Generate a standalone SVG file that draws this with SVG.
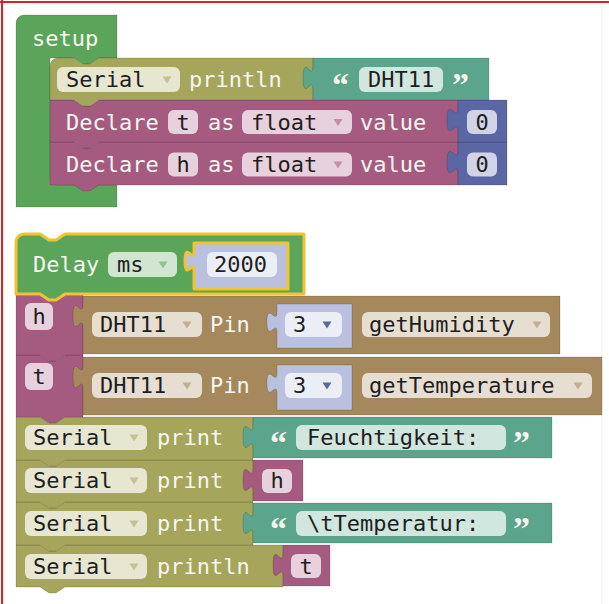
<svg xmlns="http://www.w3.org/2000/svg" width="609" height="604" viewBox="0 0 609 604">
  <style>
    .lbl { font-family: "DejaVu Sans Mono", "Liberation Mono", monospace; font-size: 22px; fill: #f6f6f0; }
    .fld { font-family: "DejaVu Sans Mono", "Liberation Mono", monospace; font-size: 22px; fill: #1e1e1e; }
    .mid { text-anchor: middle; }
    .q { font-family: "Liberation Serif", "DejaVu Serif", serif; font-weight: bold; font-size: 34px; fill: #f6f6f0; }
    .fbg { fill: #ffffff; fill-opacity: 0.72; }
    .blk { stroke: #000; stroke-opacity: 0.14; stroke-width: 1; }
    .sel { stroke: #F2C230; stroke-width: 3; stroke-linejoin: round; }
    .green { fill: #5BA55B; }
    .olive { fill: #A5A55B; }
    .teal { fill: #5BA58C; }
    .mag { fill: #A55B80; }
    .blue { fill: #5B67A5; }
    .brown { fill: #A5885B; }
    .lav { fill: #BAC0DF; }
    .a-olive { fill: #A5A55B; fill-opacity: 0.55; }
    .a-green { fill: #5BA55B; fill-opacity: 0.55; }
    .a-mag { fill: #A55B80; fill-opacity: 0.55; }
    .a-brown { fill: #A5885B; fill-opacity: 0.55; }
    .a-blue { fill: #5B67A5; }
  </style>
  <defs>
    <polygon id="arrow" points="-4.5,-3 4.5,-3 0,4"/>
  </defs>

  <rect width="609" height="604" fill="#ffffff"/>
  <!-- frame -->
  <line x1="0" y1="2" x2="609" y2="2" stroke="#E0201E" stroke-width="2"/>
  <line x1="2" y1="0" x2="2" y2="604" stroke="#E0201E" stroke-width="2"/>
  <line x1="602" y1="4" x2="602" y2="604" stroke="#f0f0f4" stroke-width="1"/>

  <g id="connectors"/>

  <!-- setup procedure -->
  <g id="setup">
    <path class="green blk" d="M16,23 a8,8 0 0 1 8,-8 H117 V58 H99 l-9,6 h-7 l-9,-6 H50 V177 a8,8 0 0 0 8,8 H117 V207 H16 Z"/>
    <text class="lbl" x="32" y="46">setup</text>
  </g>

  <g id="declare-h">
    <path class="mag blk" d="M50,142 H74 l9,6 h7 l9,-6 H458 V185 H99 l-9,6 h-7 l-9,-6 H50 Z"/>
    <text class="lbl" x="66" y="172">Declare</text>
    <rect class="fbg" x="168" y="152.5" width="30" height="24" rx="6"/>
    <text class="fld mid" x="183" y="172">h</text>
    <text class="lbl" x="208" y="172">as</text>
    <rect class="fbg" x="242" y="152.5" width="110" height="24" rx="6"/>
    <text class="fld" x="251" y="172">float</text>
    <use href="#arrow" class="a-mag" x="338" y="164.5"/>
    <text class="lbl" x="360" y="172">value</text>
  </g>
  <g id="declare-h-value">
    <path class="blue blk" d="M507,142 H458 v8 c0,16 -11,-13 -11,12 s11,-4 11,12 V185 H507 Z"/>
    <rect class="fbg" x="467" y="152.5" width="30" height="24" rx="6"/>
    <text class="fld mid" x="482" y="172">0</text>
  </g>

  <g id="declare-t">
    <path class="mag blk" d="M50,100 H74 l9,6 h7 l9,-6 H458 V142 H99 l-9,6 h-7 l-9,-6 H50 Z"/>
    <text class="lbl" x="66" y="129.5">Declare</text>
    <rect class="fbg" x="168" y="110" width="30" height="24" rx="6"/>
    <text class="fld mid" x="183" y="129.5">t</text>
    <text class="lbl" x="208" y="129.5">as</text>
    <rect class="fbg" x="242" y="110" width="110" height="24" rx="6"/>
    <text class="fld" x="251" y="129.5">float</text>
    <use href="#arrow" class="a-mag" x="338" y="122"/>
    <text class="lbl" x="360" y="129.5">value</text>
  </g>
  <g id="declare-t-value">
    <path class="blue blk" d="M507,100 H458 v8 c0,16 -11,-13 -11,12 s11,-4 11,12 V142 H507 Z"/>
    <rect class="fbg" x="467" y="110" width="30" height="24" rx="6"/>
    <text class="fld mid" x="482" y="129.5">0</text>
  </g>

  <g id="serial-println-dht">
    <path class="olive blk" d="M50,66 a8,8 0 0 1 8,-8 H74 l9,6 h7 l9,-6 H313 V100 H99 l-9,6 h-7 l-9,-6 H50 Z"/>
    <rect class="fbg" x="57" y="67" width="123" height="25" rx="6"/>
    <text class="fld" x="66" y="87">Serial</text>
    <use href="#arrow" class="a-olive" x="167" y="79.5"/>
    <text class="lbl" x="189" y="87">println</text>
  </g>
  <g id="text-dht11">
    <path class="teal blk" d="M489,58 H313 v8 c0,16 -10,-13 -10,12 s10,-4 10,12 V100 H489 Z"/>
    <text class="q" x="332" y="96">“</text>
    <rect class="fbg" x="359" y="67" width="84" height="25" rx="6"/>
    <text class="fld" x="368" y="87">DHT11</text>
    <text class="q" x="452" y="96">”</text>
  </g>

  <!-- loop stack, drawn bottom to top so each tab sits over the next block -->
  <g id="println-t">
    <path class="olive blk" d="M16,545 H40 l9,6 h7 l9,-6 H283 V587 H65 l-9,6 h-7 l-9,-6 H16 Z"/>
    <rect class="fbg" x="25" y="554" width="122" height="25" rx="6"/>
    <text class="fld" x="33" y="574">Serial</text>
    <use href="#arrow" class="a-olive" x="134" y="566.5"/>
    <text class="lbl" x="157" y="574">println</text>
  </g>
  <g id="var-t">
    <path class="mag blk" d="M330,545 H283 v8 c0,16 -10,-13 -10,12 s10,-4 10,12 V586 H330 Z"/>
    <rect class="fbg" x="291" y="554" width="30" height="24" rx="6"/>
    <text class="fld mid" x="306" y="573.5">t</text>
  </g>

  <g id="print-temperatur">
    <path class="olive blk" d="M16,502 H40 l9,6 h7 l9,-6 H253 V545 H65 l-9,6 h-7 l-9,-6 H16 Z"/>
    <rect class="fbg" x="25" y="511" width="122" height="25" rx="6"/>
    <text class="fld" x="33" y="531">Serial</text>
    <use href="#arrow" class="a-olive" x="134" y="523.5"/>
    <text class="lbl" x="157" y="531">print</text>
  </g>
  <g id="text-temperatur">
    <path class="teal blk" d="M552,503 H253 v8 c0,16 -10,-13 -10,12 s10,-4 10,12 V543 H552 Z"/>
    <text class="q" x="270" y="540">“</text>
    <rect class="fbg" x="296" y="511" width="210" height="25" rx="6"/>
    <text class="fld" x="307" y="531">\tTemperatur:</text>
    <text class="q" x="513" y="540">”</text>
  </g>

  <g id="print-h">
    <path class="olive blk" d="M16,460 H40 l9,6 h7 l9,-6 H253 V502 H65 l-9,6 h-7 l-9,-6 H16 Z"/>
    <rect class="fbg" x="25" y="468" width="122" height="25" rx="6"/>
    <text class="fld" x="33" y="488">Serial</text>
    <use href="#arrow" class="a-olive" x="134" y="480.5"/>
    <text class="lbl" x="157" y="488">print</text>
  </g>
  <g id="var-h">
    <path class="mag blk" d="M303,460 H253 v8 c0,16 -10,-13 -10,12 s10,-4 10,12 V501 H303 Z"/>
    <rect class="fbg" x="262" y="469" width="30" height="24" rx="6"/>
    <text class="fld mid" x="277" y="488">h</text>
  </g>

  <g id="print-feuchtigkeit">
    <path class="olive blk" d="M16,417 H40 l9,6 h7 l9,-6 H253 V460 H65 l-9,6 h-7 l-9,-6 H16 Z"/>
    <rect class="fbg" x="25" y="425" width="122" height="25" rx="6"/>
    <text class="fld" x="33" y="445">Serial</text>
    <use href="#arrow" class="a-olive" x="134" y="437.5"/>
    <text class="lbl" x="157" y="445">print</text>
  </g>
  <g id="text-feuchtigkeit">
    <path class="teal blk" d="M552,417 H253 v8 c0,16 -10,-13 -10,12 s10,-4 10,12 V458 H552 Z"/>
    <text class="q" x="270" y="454">“</text>
    <rect class="fbg" x="296" y="425" width="210" height="25" rx="6"/>
    <text class="fld" x="307" y="445">Feuchtigkeit:</text>
    <text class="q" x="513" y="454">”</text>
  </g>

  <g id="set-t">
    <path class="mag blk" d="M16,355 H40 l9,6 h7 l9,-6 H83 V417 H65 l-9,6 h-7 l-9,-6 H16 Z"/>
    <rect class="fbg" x="25" y="363" width="28" height="27" rx="6"/>
    <text class="fld mid" x="39" y="384">t</text>
  </g>
  <g id="dht11-temperature">
    <path class="brown blk" d="M602,357 H83 v8 c0,16 -10,-13 -10,12 s10,-4 10,12 V415 H602 Z"/>
    <rect class="fbg" x="92" y="373" width="110" height="25" rx="6"/>
    <text class="fld" x="100" y="393">DHT11</text>
    <use href="#arrow" class="a-brown" x="187" y="385.5"/>
    <text class="lbl" x="210" y="393">Pin</text>
    <rect class="fbg" x="362" y="373" width="230" height="25" rx="6"/>
    <text class="fld" x="369" y="393">getTemperature</text>
    <use href="#arrow" class="a-brown" x="578" y="385.5"/>
  </g>
  <g id="pin-t">
    <path class="lav blk" d="M352,365 H277 v8 c0,14 -10,-11 -10,10 s10,-3 10,10 V410 H352 Z"/>
    <rect class="fbg" x="285" y="373" width="57" height="25" rx="6"/>
    <text class="fld" x="293" y="393">3</text>
    <use href="#arrow" class="a-blue" x="327" y="385.5"/>
  </g>

  <g id="set-h">
    <path class="mag blk" d="M16,295 H40 l9,6 h7 l9,-6 H83 V355 H65 l-9,6 h-7 l-9,-6 H16 Z"/>
    <rect class="fbg" x="25" y="303" width="28" height="27" rx="6"/>
    <text class="fld mid" x="39" y="323.5">h</text>
  </g>
  <g id="dht11-humidity">
    <path class="brown blk" d="M560,296 H83 v8 c0,16 -10,-13 -10,12 s10,-4 10,12 V354 H560 Z"/>
    <rect class="fbg" x="92" y="312" width="110" height="25" rx="6"/>
    <text class="fld" x="100" y="332">DHT11</text>
    <use href="#arrow" class="a-brown" x="187" y="324.5"/>
    <text class="lbl" x="210" y="332">Pin</text>
    <rect class="fbg" x="362" y="312" width="188" height="25" rx="6"/>
    <text class="fld" x="369" y="332">getHumidity</text>
    <use href="#arrow" class="a-brown" x="537" y="324.5"/>
  </g>
  <g id="pin-h">
    <path class="lav blk" d="M352,304 H277 v8 c0,14 -10,-11 -10,10 s10,-3 10,10 V348 H352 Z"/>
    <rect class="fbg" x="285" y="312" width="57" height="25" rx="6"/>
    <text class="fld" x="293" y="332">3</text>
    <use href="#arrow" class="a-blue" x="327" y="324.5"/>
  </g>

  <!-- selected delay block with its inline value -->
  <g id="delay">
    <path class="green sel" d="M16,242 a8,8 0 0 1 8,-8 H40 l9,6 h7 l9,-6 H304 V294 H65 l-9,6 h-7 l-9,-6 H16 Z"/>
    <text class="lbl" x="33" y="272">Delay</text>
    <rect class="fbg" x="108" y="252" width="69" height="25" rx="6"/>
    <text class="fld" x="117" y="272">ms</text>
    <use href="#arrow" class="a-green" x="163" y="264.5"/>
  </g>
  <g id="delay-value">
    <path class="lav sel" d="M288,243 H194 v8 c0,14 -9,-11 -9,10 s9,-3 9,10 V289 H288 Z"/>
    <rect class="fbg" x="207" y="252" width="70" height="25" rx="6"/>
    <text class="fld" x="214" y="272">2000</text>
  </g>
</svg>
